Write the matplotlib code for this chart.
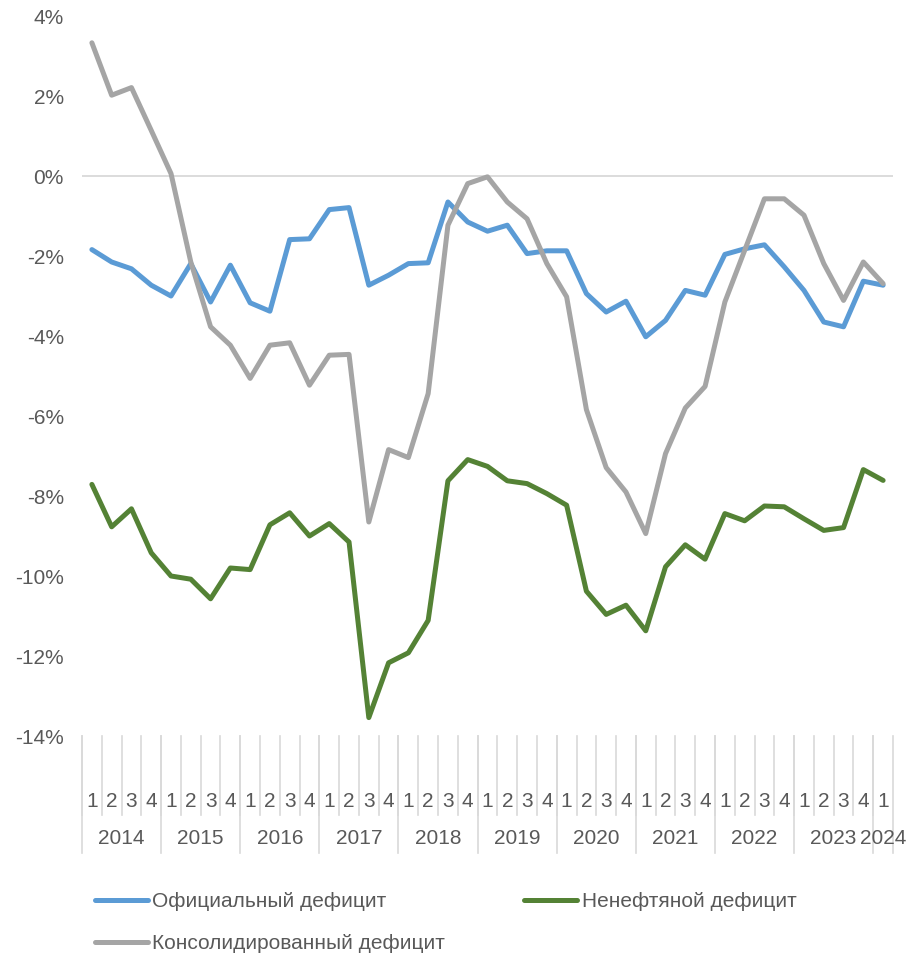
import numpy as np
import matplotlib
matplotlib.use("Agg")
import matplotlib.pyplot as plt
import matplotlib.transforms as mtransforms
from matplotlib.ticker import FuncFormatter

plt.rcParams['font.family'] = ['Liberation Sans', 'DejaVu Sans']
plt.rcParams['axes.unicode_minus'] = False

# quarters 2014Q1 .. 2024Q1
years = ['2014', '2015', '2016', '2017', '2018', '2019', '2020', '2021', '2022', '2023', '2024']
quarters_per_year = [4, 4, 4, 4, 4, 4, 4, 4, 4, 4, 1]
quarter_labels = ['1', '2', '3', '4'] * 10 + ['1']

# deficits, % of GDP
official = [-1.84, -2.15, -2.32, -2.73, -3.00, -2.19, -3.15, -2.23, -3.17, -3.38,
            -1.59, -1.57, -0.84, -0.79, -2.73, -2.48, -2.19, -2.17, -0.65, -1.15,
            -1.38, -1.23, -1.94, -1.87, -1.87, -2.94, -3.40, -3.13, -4.02, -3.61,
            -2.86, -2.98, -1.96, -1.82, -1.72, -2.27, -2.86, -3.65, -3.77, -2.63,
            -2.73]
non_oil = [-7.71, -8.77, -8.32, -9.42, -10.00, -10.08, -10.57, -9.80, -9.84, -8.72,
           -8.42, -9.00, -8.69, -9.15, -13.54, -12.17, -11.92, -11.11, -7.62, -7.09,
           -7.26, -7.62, -7.69, -7.94, -8.23, -10.38, -10.96, -10.73, -11.37, -9.77,
           -9.22, -9.58, -8.44, -8.62, -8.25, -8.27, -8.57, -8.86, -8.79, -7.34,
           -7.61]
consolidated = [3.33, 2.02, 2.21, 1.14, 0.06, -2.15, -3.77, -4.23, -5.06, -4.23,
                -4.17, -5.23, -4.48, -4.46, -8.65, -6.84, -7.04, -5.44, -1.23, -0.19,
                -0.02, -0.65, -1.07, -2.19, -3.02, -5.84, -7.29, -7.90, -8.94, -6.94,
                -5.80, -5.26, -3.15, -1.86, -0.57, -0.57, -0.98, -2.19, -3.11, -2.15,
                -2.69]

text_color = '#595959'
sep_color = '#D9D9D9'
fs = 15

fig = plt.figure(figsize=(9.2, 9.55), dpi=100)
ax = fig.add_axes([82 / 920, 1 - 736 / 955, (893 - 82) / 920, 720 / 955])

x = np.arange(len(official))
l_off, = ax.plot(x, official, color='#5B9BD5', lw=3.6, solid_joinstyle='round',
                 solid_capstyle='round', label='Официальный дефицит')
l_non, = ax.plot(x, non_oil, color='#548235', lw=3.6, solid_joinstyle='round',
                 solid_capstyle='round', label='Ненефтяной дефицит')
l_con, = ax.plot(x, consolidated, color='#A5A5A5', lw=3.6, solid_joinstyle='round',
                 solid_capstyle='round', label='Консолидированный дефицит')

ax.axhline(0, color=sep_color, lw=1.3, zorder=0)
ax.set_xlim(-0.5, len(x) - 0.5)
ax.set_ylim(-14, 4)
ax.set_yticks(np.arange(-14, 5, 2))
ax.yaxis.set_major_formatter(FuncFormatter(lambda v, p: f'{v:.0f}%'))
ax.tick_params(axis='y', length=0, pad=13, labelsize=fs, labelcolor=text_color)
ax.set_xticks([])
for s in ax.spines.values():
    s.set_visible(False)

# two-level category axis
trans = mtransforms.blended_transform_factory(ax.transData, ax.transAxes)
for i, q in enumerate(quarter_labels):
    ax.text(i, -0.091, q, transform=trans, ha='center', va='center',
            fontsize=fs, color=text_color)
    ax.plot([i - 0.5, i - 0.5], [0, -0.11], transform=trans, color=sep_color,
            lw=1.2, clip_on=False)
start = 0
for yr, n in zip(years, quarters_per_year):
    ax.text(start + (n - 1) / 2, -0.142, yr, transform=trans, ha='center', va='center',
            fontsize=fs, color=text_color)
    ax.plot([start - 0.5, start - 0.5], [0, -0.162], transform=trans, color=sep_color,
            lw=1.2, clip_on=False)
    start += n
ax.plot([start - 0.5, start - 0.5], [0, -0.162], transform=trans, color=sep_color,
        lw=1.2, clip_on=False)

fig.legend([l_off, l_con, l_non],
           ['Официальный дефицит', 'Консолидированный дефицит', 'Ненефтяной дефицит'],
           ncol=2, loc='upper left', bbox_to_anchor=(95 / 920, 1 - 892 / 955),
           frameon=False, fontsize=fs, labelcolor=text_color,
           handlelength=2.55, handletextpad=0.2, columnspacing=3.8,
           labelspacing=1.1, borderpad=0, borderaxespad=0)

fig.savefig('out.png', dpi=100)
